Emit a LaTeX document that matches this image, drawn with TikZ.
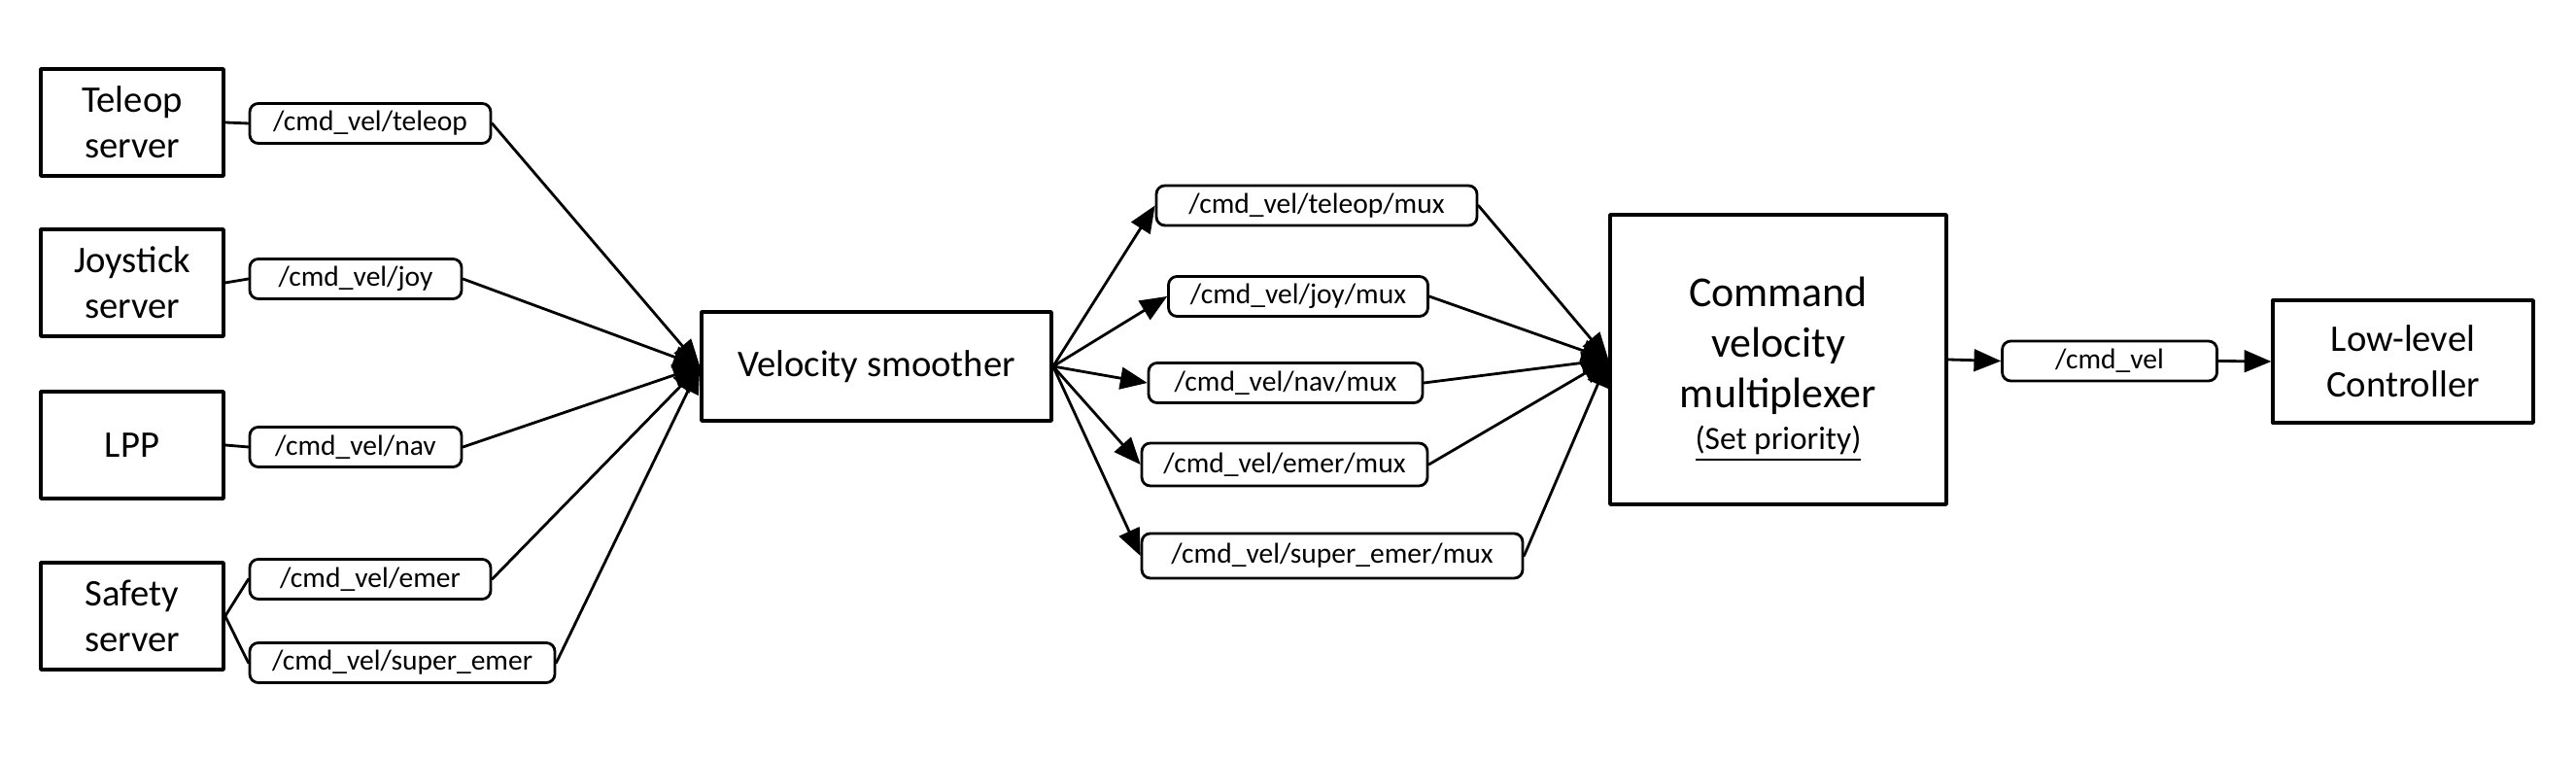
\documentclass[tikz,border=0pt]{standalone}
\usepackage{fontspec}
\setmainfont{Carlito}
\usetikzlibrary{arrows}
\tikzset{
  srvbox/.style={draw,line width=1pt,align=center,inner sep=0pt,font=\fontsize{11}{13.4}\selectfont},
  topic/.style={draw,line width=0.8pt,rounded corners=2.5pt,inner sep=0pt,minimum height=0.41cm,font=\fontsize{8.4}{10}\selectfont},
}

\begin{document}
\begin{tikzpicture}[line cap=round,line join=round,>=triangle 45,x=1cm,y=1cm,line width=0.8pt]
\useasboundingbox (0,0) rectangle (26.51,7.80);
\node[srvbox,minimum width=1.88cm,minimum height=1.10cm] (teleop) at (1.36,6.54) {Teleop\\server};
\node[srvbox,minimum width=1.88cm,minimum height=1.10cm] (joy) at (1.36,4.89) {Joystick\\server};
\node[srvbox,minimum width=1.88cm,minimum height=1.10cm] (lpp) at (1.36,3.22) {LPP};
\node[srvbox,minimum width=1.88cm,minimum height=1.10cm] (safety) at (1.36,1.46) {Safety\\server};
\node[topic,minimum width=2.48cm] (vteleop) at (3.81,6.53) {/cmd\_vel/teleop};
\node[topic,minimum width=2.18cm] (vjoy) at (3.66,4.93) {/cmd\_vel/joy};
\node[topic,minimum width=2.18cm] (vnav) at (3.66,3.20) {/cmd\_vel/nav};
\node[topic,minimum width=2.48cm] (vemer) at (3.81,1.84) {/cmd\_vel/emer};
\node[topic,minimum width=3.14cm] (vsuper) at (4.14,0.98) {/cmd\_vel/super\_emer};
\node[srvbox,minimum width=3.60cm,minimum height=1.12cm] (smoother) at (9.02,4.03) {Velocity smoother};
\node[topic,minimum width=3.30cm] (mteleop) at (13.55,5.685) {/cmd\_vel/teleop/mux};
\node[topic,minimum width=2.67cm] (mjoy) at (13.36,4.75) {/cmd\_vel/joy/mux};
\node[topic,minimum width=2.82cm] (mnav) at (13.23,3.86) {/cmd\_vel/nav/mux};
\node[topic,minimum width=2.94cm,minimum height=0.44cm] (memer) at (13.22,3.02) {/cmd\_vel/emer/mux};
\node[topic,minimum width=3.92cm,minimum height=0.46cm] (msuper) at (13.71,2.08) {/cmd\_vel/super\_emer/mux};
\node[srvbox,minimum width=3.46cm,minimum height=2.98cm,font=\fontsize{12.5}{14.8}\selectfont] (cvm) at (18.30,4.10) {\rule{0pt}{14.5pt}Command\\velocity\\multiplexer\\[-2.5pt]{\fontsize{9.5}{11}\selectfont\underline{(Set priority)}}};
\node[topic,minimum width=2.21cm] (cmdvel) at (21.71,4.085) {/cmd\_vel};
\node[srvbox,minimum width=2.68cm,minimum height=1.26cm] (llc) at (24.73,4.08) {Low-level\\Controller};
\draw (teleop.east) -- (vteleop.west);
\draw (joy.east) -- (vjoy.west);
\draw (lpp.east) -- (vnav.west);
\draw (safety.east) -- (vemer.west);
\draw (safety.east) -- (vsuper.west);
\draw[->] (vteleop.east) -- (smoother.west);
\draw[->] (vjoy.east) -- (smoother.west);
\draw[->] (vnav.east) -- (smoother.west);
\draw[->] (vemer.east) -- (smoother.west);
\draw[->] (vsuper.east) -- (smoother.west);
\draw[->] (smoother.east) -- (mteleop.west);
\draw[->] (smoother.east) -- (mjoy.west);
\draw[->] (smoother.east) -- (mnav.west);
\draw[->] (smoother.east) -- (memer.west);
\draw[->] (smoother.east) -- (msuper.west);
\draw[->] (mteleop.east) -- (cvm.west);
\draw[->] (mjoy.east) -- (cvm.west);
\draw[->] (mnav.east) -- (cvm.west);
\draw[->] (memer.east) -- (cvm.west);
\draw[->] (msuper.east) -- (cvm.west);
\draw[->] (cvm.east) -- (cmdvel.west);
\draw[->] (cmdvel.east) -- (llc.west);
\end{tikzpicture}
\end{document}
